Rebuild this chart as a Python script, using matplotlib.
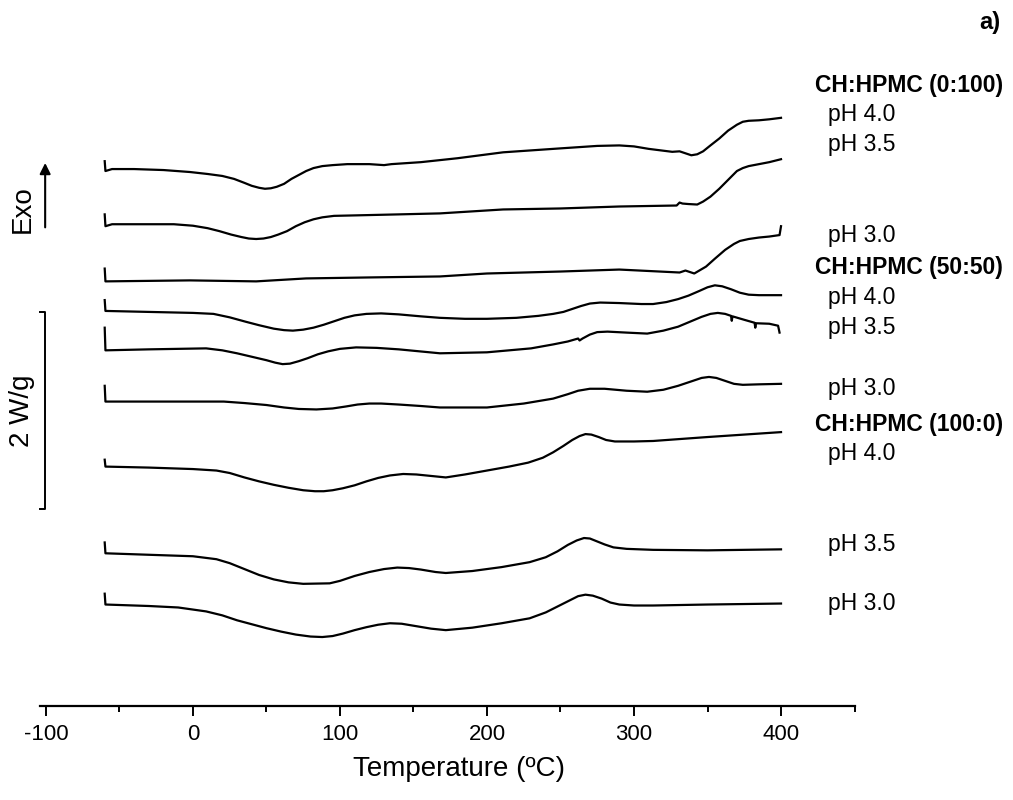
import matplotlib
matplotlib.use('Agg')
from matplotlib import pyplot as plt

plt.rcParams['font.family'] = ['Liberation Sans', 'DejaVu Sans']
plt.rcParams['axes.unicode_minus'] = False

# DSC curves, heat flow (W/g) stacked, temperature (C)
t_0_100_ph40 = [-60, -59.5, -55, -40, -20, -2, 10, 20, 28, 35, 40, 45, 49, 53, 57, 62, 67, 72, 77, 82, 88, 95, 105, 120, 130, 135, 155, 180, 211, 250, 275, 290, 300, 310, 318, 326, 331, 335, 339, 343, 347, 352, 358, 364, 370, 374, 378, 385, 392, 400]
hf_0_100_ph40 = [5.53, 5.43, 5.45, 5.45, 5.44, 5.42, 5.40, 5.38, 5.35, 5.31, 5.28, 5.26, 5.25, 5.255, 5.27, 5.30, 5.35, 5.39, 5.43, 5.46, 5.48, 5.49, 5.50, 5.50, 5.49, 5.50, 5.52, 5.56, 5.62, 5.66, 5.685, 5.69, 5.68, 5.655, 5.64, 5.625, 5.63, 5.61, 5.59, 5.60, 5.63, 5.69, 5.76, 5.84, 5.90, 5.93, 5.94, 5.945, 5.955, 5.97]

t_0_100_ph35 = [-60, -59.5, -55, -30, -13, 0, 10, 18, 26, 33, 38, 43, 48, 53, 58, 64, 70, 76, 82, 88, 96, 111, 140, 168, 211, 250, 290, 329, 331, 333, 337, 343, 347, 352, 358, 364, 370, 374, 378, 385, 392, 400]
hf_0_100_ph35 = [4.99, 4.87, 4.89, 4.89, 4.89, 4.875, 4.85, 4.82, 4.785, 4.76, 4.745, 4.74, 4.745, 4.76, 4.785, 4.82, 4.87, 4.91, 4.94, 4.96, 4.975, 4.98, 4.99, 5.00, 5.04, 5.05, 5.07, 5.08, 5.11, 5.10, 5.095, 5.09, 5.12, 5.17, 5.25, 5.34, 5.43, 5.46, 5.48, 5.50, 5.52, 5.55]

t_0_100_ph30 = [-60, -59.5, -2, 43, 77, 120, 168, 200, 250, 290, 331, 335, 341, 349, 355, 362, 368, 372, 378, 385, 392, 399, 400]
hf_0_100_ph30 = [4.44, 4.31, 4.32, 4.31, 4.34, 4.35, 4.36, 4.39, 4.41, 4.43, 4.40, 4.42, 4.39, 4.46, 4.54, 4.63, 4.69, 4.72, 4.74, 4.755, 4.765, 4.78, 4.87]

t_50_50_ph40 = [-60, -59.5, -30, 0, 14, 25, 36, 45, 55, 62, 68, 75, 82, 89, 96, 103, 110, 118, 128, 140, 155, 168, 185, 200, 220, 235, 245, 252, 258, 264, 270, 277, 290, 305, 313, 322, 330, 337, 344, 350, 355, 360, 366, 372, 378, 385, 400]
hf_50_50_ph40 = [4.12, 4.01, 4.00, 3.99, 3.98, 3.945, 3.90, 3.865, 3.83, 3.815, 3.81, 3.82, 3.84, 3.87, 3.905, 3.94, 3.965, 3.98, 3.985, 3.975, 3.955, 3.94, 3.93, 3.93, 3.94, 3.96, 3.98, 4.00, 4.03, 4.06, 4.085, 4.095, 4.09, 4.08, 4.08, 4.10, 4.13, 4.165, 4.21, 4.25, 4.27, 4.26, 4.23, 4.195, 4.175, 4.17, 4.17]

t_50_50_ph35 = [-60, -59.5, -30, 9, 20, 30, 40, 50, 56, 61, 66, 72, 78, 85, 92, 100, 111, 125, 140, 168, 200, 230, 245, 255, 262, 263, 265, 270, 275, 282, 295, 309, 320, 330, 338, 346, 352, 357, 362, 366, 366.5, 367, 375, 382, 382.5, 383, 392, 398, 399]
hf_50_50_ph35 = [3.84, 3.61, 3.62, 3.63, 3.61, 3.58, 3.545, 3.51, 3.485, 3.47, 3.475, 3.50, 3.53, 3.57, 3.60, 3.625, 3.64, 3.635, 3.62, 3.58, 3.59, 3.63, 3.67, 3.70, 3.73, 3.71, 3.73, 3.77, 3.795, 3.80, 3.79, 3.78, 3.81, 3.85, 3.90, 3.95, 3.98, 3.99, 3.98, 3.96, 3.91, 3.955, 3.92, 3.89, 3.84, 3.885, 3.88, 3.86, 3.79]

t_50_50_ph30 = [-60, -59.5, 21, 35, 50, 62, 72, 84, 95, 104, 112, 120, 128, 140, 155, 168, 200, 225, 245, 255, 262, 270, 280, 295, 309, 320, 330, 340, 346, 351, 356, 362, 368, 374, 385, 400]
hf_50_50_ph30 = [3.25, 3.09, 3.09, 3.075, 3.055, 3.03, 3.015, 3.01, 3.02, 3.04, 3.06, 3.07, 3.07, 3.06, 3.045, 3.03, 3.03, 3.07, 3.12, 3.165, 3.20, 3.22, 3.22, 3.20, 3.19, 3.21, 3.25, 3.30, 3.33, 3.34, 3.33, 3.30, 3.27, 3.26, 3.265, 3.27]

t_100_0_ph40 = [-60, -59.5, -30, 0, 16, 25, 35, 45, 55, 65, 75, 83, 89, 95, 102, 110, 118, 126, 134, 143, 152, 162, 172, 185, 200, 215, 228, 238, 245, 252, 258, 263, 267, 271, 276, 281, 287, 300, 313, 350, 400]
hf_100_0_ph40 = [2.50, 2.43, 2.42, 2.405, 2.39, 2.365, 2.32, 2.28, 2.245, 2.215, 2.19, 2.18, 2.18, 2.19, 2.21, 2.24, 2.28, 2.315, 2.34, 2.355, 2.35, 2.335, 2.32, 2.35, 2.39, 2.43, 2.47, 2.52, 2.575, 2.64, 2.70, 2.74, 2.76, 2.755, 2.73, 2.70, 2.685, 2.685, 2.69, 2.73, 2.78]

t_100_0_ph35 = [-60, -59.5, -30, 0, 16, 25, 35, 45, 55, 65, 75, 93, 100, 110, 120, 130, 139, 147, 155, 165, 172, 190, 210, 229, 240, 248, 255, 261, 266, 270, 275, 280, 286, 295, 313, 350, 400]
hf_100_0_ph35 = [1.66, 1.55, 1.535, 1.52, 1.49, 1.45, 1.39, 1.33, 1.285, 1.255, 1.24, 1.245, 1.27, 1.32, 1.36, 1.39, 1.405, 1.40, 1.385, 1.36, 1.35, 1.37, 1.41, 1.46, 1.51, 1.57, 1.635, 1.68, 1.705, 1.70, 1.67, 1.64, 1.61, 1.595, 1.585, 1.58, 1.59]

t_100_0_ph30 = [-60, -59.5, -30, -10, 9, 20, 30, 40, 50, 60, 70, 80, 88, 95, 102, 110, 118, 126, 134, 142, 152, 162, 172, 190, 210, 229, 240, 248, 256, 262, 267, 272, 278, 284, 290, 300, 313, 350, 400]
hf_100_0_ph30 = [1.14, 1.03, 1.015, 1.00, 0.96, 0.92, 0.87, 0.83, 0.79, 0.755, 0.725, 0.705, 0.70, 0.71, 0.735, 0.77, 0.80, 0.825, 0.84, 0.835, 0.81, 0.785, 0.77, 0.795, 0.84, 0.89, 0.95, 1.01, 1.07, 1.115, 1.13, 1.12, 1.09, 1.05, 1.03, 1.02, 1.02, 1.03, 1.04]

# labels on the right: (text, y position, bold)
labels = [('CH:HPMC (0:100)', 6.30, True), ('pH 4.0', 6.00, False), ('pH 3.5', 5.70, False),
          ('pH 3.0', 4.78, False), ('CH:HPMC (50:50)', 4.45, True), ('pH 4.0', 4.15, False),
          ('pH 3.5', 3.84, False), ('pH 3.0', 3.22, False), ('CH:HPMC (100:0)', 2.86, True),
          ('pH 4.0', 2.56, False), ('pH 3.5', 1.64, False), ('pH 3.0', 1.04, False)]

scale_lo = 2.0
scale_hi = 4.0   # 2 W/g bar

fig = plt.figure(figsize=(10.13, 8.0), dpi=100)
ax = fig.add_axes([0.0395, 0.1175, 0.8045, 0.8325])

curves = [(t_0_100_ph40, hf_0_100_ph40), (t_0_100_ph35, hf_0_100_ph35), (t_0_100_ph30, hf_0_100_ph30),
          (t_50_50_ph40, hf_50_50_ph40), (t_50_50_ph35, hf_50_50_ph35), (t_50_50_ph30, hf_50_50_ph30),
          (t_100_0_ph40, hf_100_0_ph40), (t_100_0_ph35, hf_100_0_ph35), (t_100_0_ph30, hf_100_0_ph30)]
for t, hf in curves:
    ax.plot(t, hf, color='black', lw=1.6, solid_joinstyle='round')

ax.set_xlim(-104, 450.3)
ax.set_ylim(0, 6.76)

for s in ['top', 'left', 'right']:
    ax.spines[s].set_visible(False)
ax.spines['bottom'].set_linewidth(1.6)
ax.set_yticks([])
ax.set_xticks([-100, 0, 100, 200, 300, 400])
ax.set_xticks([-50, 50, 150, 250, 350, 450], minor=True)
ax.tick_params(axis='x', which='major', length=7, width=1.4, labelsize=16, pad=6)
ax.tick_params(axis='x', which='minor', length=4, width=1.4)
ax.set_xlabel('Temperature (ºC)', fontsize=20)
ax.xaxis.set_label_coords(0.514, -0.075)

for txt, y, bold in labels:
    x = 423 if bold else 432
    ax.text(x, y, txt, fontsize=16.5, ha='left', va='center',
            fontweight='bold' if bold else 'normal', clip_on=False)

# Exo arrow and scale bar
ax.annotate('', xy=(-100.5, 5.54), xytext=(-100.5, 4.83),
            arrowprops=dict(arrowstyle='-|>', lw=1.5, color='black', mutation_scale=16),
            annotation_clip=False)
ax.text(-116, 5.04, 'Exo', rotation=90, fontsize=20, ha='center', va='center', clip_on=False)
ax.plot([-104, -100.5, -100.5, -104], [scale_hi, scale_hi, scale_lo, scale_lo],
        color='black', lw=1.4, clip_on=False)
ax.text(-116, (scale_lo + scale_hi) / 2, '2 W/g', rotation=90, fontsize=20,
        ha='center', va='center', clip_on=False)

fig.text(0.977, 1 - 22 / 800, 'a)', fontsize=17, fontweight='bold', ha='center', va='center')

plt.savefig('out.png', dpi=100)
